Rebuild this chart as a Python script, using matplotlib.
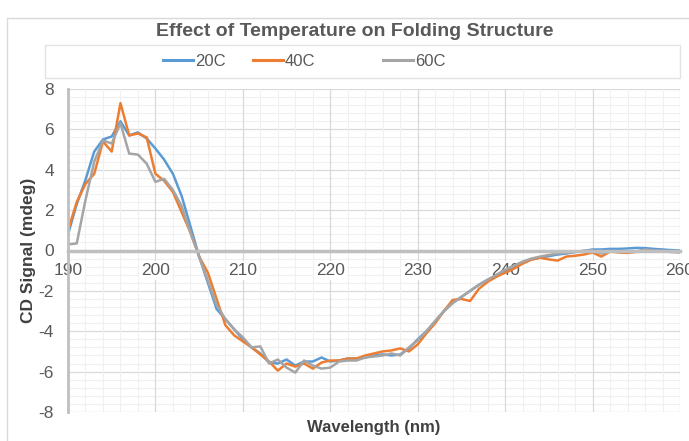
import matplotlib.pyplot as plt
import numpy as np
from matplotlib.patches import Rectangle
from matplotlib.lines import Line2D
from matplotlib.ticker import MultipleLocator

plt.rcParams['font.family'] = ['Liberation Sans', 'DejaVu Sans']
plt.rcParams['axes.unicode_minus'] = False

wavelength = list(range(190, 261))

cd_20c = [0.8, 2.3, 3.5, 4.9, 5.5, 5.65, 6.4, 5.7, 5.85, 5.55,
          5.05, 4.5, 3.8, 2.7, 1.2, -0.3, -1.6, -2.9, -3.4, -3.9,
          -4.4, -4.8, -5.1, -5.55, -5.6, -5.4, -5.7, -5.5, -5.5, -5.3,
          -5.5, -5.45, -5.35, -5.35, -5.3, -5.2, -5.15, -5.2, -5.15, -4.85,
          -4.4, -4.0, -3.5, -3.0, -2.6, -2.3, -2.0, -1.7, -1.45, -1.25,
          -1.0, -0.8, -0.6, -0.45, -0.35, -0.28, -0.2, -0.15, -0.08, -0.02,
          0.05, 0.05, 0.08, 0.08, 0.1, 0.13, 0.12, 0.08, 0.05, 0.02,
          0.0]

cd_40c = [1.0, 2.4, 3.3, 3.8, 5.4, 4.9, 7.3, 5.7, 5.8, 5.6,
          3.8, 3.45, 2.9, 1.9, 0.9, -0.3, -1.1, -2.4, -3.7, -4.2,
          -4.5, -4.8, -5.15, -5.5, -5.95, -5.6, -5.75, -5.6, -5.85, -5.55,
          -5.45, -5.45, -5.35, -5.35, -5.2, -5.1, -5.0, -4.95, -4.85, -5.0,
          -4.65, -4.1, -3.6, -3.0, -2.45, -2.4, -2.5, -1.9, -1.55, -1.3,
          -1.1, -0.9, -0.65, -0.45, -0.36, -0.44, -0.5, -0.3, -0.26, -0.2,
          -0.1, -0.3, -0.05, -0.1, -0.12, -0.07, -0.05, -0.03, -0.03, -0.05,
          -0.05]

cd_60c = [0.3, 0.35, 2.5, 4.4, 5.45, 5.3, 6.3, 4.8, 4.75, 4.3,
          3.4, 3.55, 3.0, 2.2, 0.9, -0.3, -1.5, -2.7, -3.4, -3.9,
          -4.3, -4.8, -4.75, -5.6, -5.4, -5.8, -6.05, -5.45, -5.7, -5.85,
          -5.8, -5.5, -5.45, -5.45, -5.3, -5.25, -5.2, -5.1, -5.2, -4.8,
          -4.45, -4.0, -3.5, -3.0, -2.6, -2.3, -2.0, -1.7, -1.45, -1.2,
          -0.95, -0.75, -0.55, -0.4, -0.3, -0.22, -0.15, -0.1, -0.05, -0.02,
          0.0, -0.15, -0.05, -0.05, -0.08, -0.05, 0.05, 0.0, -0.03, -0.08,
          -0.1]

series = [('20C', cd_20c, '#5B9BD5'),
          ('40C', cd_40c, '#ED7D31'),
          ('60C', cd_60c, '#A5A5A5')]
legend_x = [163, 253, 383]  # left edge of each legend entry, px

W, H = 689, 441
fig = plt.figure(figsize=(W / 100, H / 100), dpi=100)

# chart frame and legend box (Excel style)
fig.add_artist(Rectangle((7 / W, -0.1), 1.1, 1.1 - 18 / H, transform=fig.transFigure,
                         fill=False, edgecolor='#D9D9D9', lw=1))
fig.add_artist(Rectangle((45 / W, 1 - 78 / H), 635 / W, 33 / H, transform=fig.transFigure,
                         fill=False, edgecolor='#E3E3E3', lw=1))

ax = fig.add_axes([68 / W, 1 - 412 / H, 612 / W, 323 / H])

for name, vals, col in series:
    ax.plot(wavelength, vals, color=col, lw=1.8, label=name, solid_joinstyle='round')

ax.set_xlim(190, 260)
ax.set_ylim(-8, 8)
ax.xaxis.set_major_locator(MultipleLocator(10))
ax.xaxis.set_minor_locator(MultipleLocator(2))
ax.yaxis.set_major_locator(MultipleLocator(2))
ax.yaxis.set_minor_locator(MultipleLocator(0.4))
ax.grid(which='major', color='#D9D9D9', lw=0.9)
ax.grid(which='minor', color='#F0F0F0', lw=0.8)
ax.set_axisbelow(True)
# x axis after y axis so its labels cover the horizontal grid
ax.yaxis.set_zorder(0.4)
ax.xaxis.set_zorder(0.6)

for s in ['top', 'right']:
    ax.spines[s].set_visible(False)
ax.spines['bottom'].set_position(('data', 0))
ax.spines['bottom'].set_color('#BFBFBF')
ax.spines['bottom'].set_linewidth(2.5)
ax.spines['left'].set_color('#BFBFBF')
ax.spines['left'].set_linewidth(2)
ax.tick_params(which='both', length=0, labelsize=12.5, labelcolor='#595959')
ax.tick_params(axis='y', pad=10)
ax.tick_params(axis='x', pad=9)

ax.set_ylabel('CD Signal (mdeg)', fontsize=12.5, fontweight='bold', color='#404040', labelpad=2)
ax.text(0.5, -0.025, 'Wavelength (nm)', transform=ax.transAxes, ha='center', va='top',
        fontsize=12, fontweight='bold', color='#404040')

fig.text(355 / W, 1 - 32 / H, 'Effect of Temperature on Folding Structure', ha='center', va='center',
         fontsize=14, fontweight='bold', color='#595959')

for (name, vals, col), x0 in zip(series, legend_x):
    h = Line2D([], [], color=col, lw=2.2)
    lg = fig.legend(handles=[h], labels=[name], loc='center left',
                    bbox_to_anchor=(x0 / W, 1 - 61 / H), frameon=False, fontsize=12,
                    handlelength=1.8, handletextpad=0.1, borderpad=0, borderaxespad=0,
                    labelcolor='#595959')

# x labels sit on a white patch over the grid, like Excel
fig.canvas.draw()
for tick in ax.xaxis.get_major_ticks():
    tick.label1.set_bbox(dict(facecolor='white', edgecolor='none', pad=1.5))

fig.savefig('out.png', dpi=100, facecolor='white')
